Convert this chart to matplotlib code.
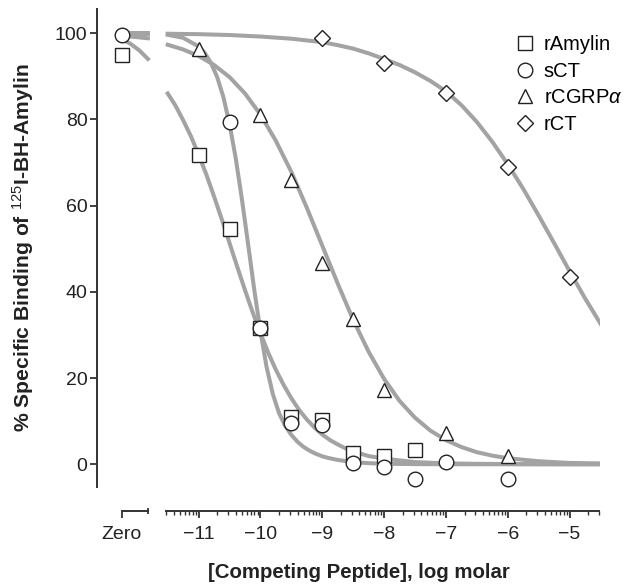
from __future__ import annotations

import matplotlib

matplotlib.use("Agg")
import matplotlib.pyplot as plt
import numpy as np


# x positions on the log-molar axis; "Zero" sits on its own short axis piece
ZERO_POS = -12.24
ZERO_END = -11.82
AXIS_START = np.log10(3e-12)
AXIS_END = np.log10(3e-5)

X_TICKS = [-11, -10, -9, -8, -7, -6, -5]
Y_TICKS = [0, 20, 40, 60, 80, 100]

LABELS = ["rAmylin", "sCT", r"rCGRP$\alpha$", "rCT"]

# measured points (% specific binding)
AMYLIN_LOG = [-11.0, -10.5, -10.0, -9.5, -9.0, -8.5, -8.0, -7.5]
AMYLIN_BIND = [71.7, 54.5, 31.5, 11.0, 10.3, 2.7, 2.0, 3.3]
AMYLIN_ZERO = 95.0

SCT_LOG = [-10.5, -10.0, -9.5, -9.0, -8.5, -8.0, -7.5, -7.0, -6.0]
SCT_BIND = [79.4, 31.5, 9.5, 9.1, 0.4, -0.6, -3.5, 0.6, -3.5]
SCT_ZERO = 99.6

CGRP_LOG = [-11.0, -10.0, -9.5, -9.0, -8.5, -8.0, -7.0, -6.0]
CGRP_BIND = [96.2, 81.0, 65.9, 46.6, 33.8, 17.2, 7.2, 1.8]

RCT_LOG = [-9.0, -8.0, -7.0, -6.0, -5.0]
RCT_BIND = [98.8, 93.1, 86.2, 69.0, 43.5]

# fitted curves
ZERO_CURVE_LOG = [-12.24, -12.10, -11.96, -11.82]
AMYLIN_ZERO_CURVE = [98.6, 97.5, 96.0, 94.0]
SCT_ZERO_CURVE = [99.9, 99.9, 99.8, 99.8]
CGRP_ZERO_CURVE = [99.3, 99.2, 99.0, 98.8]
RCT_ZERO_CURVE = [100.0, 100.0, 100.0, 100.0]

AMYLIN_CURVE_LOG = [-11.5, -11.375, -11.25, -11.125, -11.0, -10.875, -10.75, -10.625,
                    -10.5, -10.375, -10.25, -10.125, -10.0, -9.875, -9.75, -9.625,
                    -9.5, -9.375, -9.25, -9.125, -9.0, -8.875, -8.75, -8.625, -8.5,
                    -8.25, -8.0, -7.5, -7.0, -6.5, -6.0, -5.0, -4.5]
AMYLIN_CURVE = [86.0, 83.2, 79.8, 76.1, 71.8, 67.2, 62.1, 56.8,
                51.3, 45.8, 40.4, 35.2, 30.4, 25.9, 21.9, 18.4,
                15.3, 12.6, 10.4, 8.5, 6.9, 5.6, 4.6, 3.7, 3.0,
                1.9, 1.3, 0.5, 0.2, 0.1, 0.05, 0.0, 0.0]

SCT_CURVE_LOG = [-11.5, -11.25, -11.0, -10.9, -10.8, -10.7, -10.6, -10.5, -10.4,
                 -10.3, -10.2, -10.1, -10.0, -9.9, -9.8, -9.7, -9.6, -9.5, -9.4,
                 -9.3, -9.2, -9.1, -9.0, -8.9, -8.75, -8.5, -8.25, -8.0, -7.5,
                 -7.0, -6.0, -5.0, -4.5]
SCT_CURVE = [99.6, 98.9, 96.9, 95.4, 93.1, 89.8, 85.2, 78.9, 71.0,
             61.5, 51.1, 40.5, 30.8, 22.5, 16.3, 11.9, 8.9, 6.8, 5.2,
             4.0, 3.1, 2.4, 1.85, 1.45, 1.0, 0.5, 0.25, 0.12, 0.03,
             0.0, 0.0, 0.0, 0.0]

CGRP_CURVE_LOG = [-11.5, -11.25, -11.0, -10.75, -10.5, -10.25, -10.0, -9.75, -9.5,
                  -9.25, -9.0, -8.75, -8.5, -8.25, -8.0, -7.75, -7.5, -7.25, -7.0,
                  -6.75, -6.5, -6.25, -6.0, -5.5, -5.0, -4.5]
CGRP_CURVE = [97.3, 96.2, 94.7, 92.6, 89.8, 86.0, 81.1, 75.0, 67.8,
              59.5, 50.7, 41.9, 33.5, 26.1, 19.8, 14.7, 10.8, 7.8, 5.6,
              4.0, 2.8, 2.0, 1.4, 0.7, 0.3, 0.2]

RCT_CURVE_LOG = [-11.5, -11.0, -10.5, -10.0, -9.5, -9.0, -8.75, -8.5, -8.25, -8.0,
                 -7.75, -7.5, -7.25, -7.0, -6.75, -6.5, -6.25, -6.0, -5.75, -5.5,
                 -5.25, -5.0, -4.75, -4.5]
RCT_CURVE = [99.85, 99.75, 99.55, 99.2, 98.7, 97.9, 97.2, 96.4, 95.3, 94.0,
             92.6, 90.9, 88.9, 86.5, 83.3, 79.4, 74.8, 69.6, 63.9, 57.7,
             51.3, 44.8, 38.5, 32.6]

CURVE_COLOR = "#a3a3a3"
INK = "#222222"


def main() -> None:
    plt.rcParams["font.family"] = "Liberation Sans"
    plt.rcParams["mathtext.fontset"] = "custom"
    plt.rcParams["mathtext.rm"] = "Liberation Sans"
    plt.rcParams["mathtext.it"] = "Liberation Sans:italic"
    plt.rcParams["mathtext.bf"] = "Liberation Sans:bold"

    fig = plt.figure(figsize=(6.24, 5.86), dpi=100)
    ax = fig.add_axes([0.156, 0.1695, 0.806, 0.8145])

    curves = [
        (AMYLIN_ZERO_CURVE, AMYLIN_CURVE_LOG, AMYLIN_CURVE),
        (SCT_ZERO_CURVE, SCT_CURVE_LOG, SCT_CURVE),
        (CGRP_ZERO_CURVE, CGRP_CURVE_LOG, CGRP_CURVE),
        (RCT_ZERO_CURVE, RCT_CURVE_LOG, RCT_CURVE),
    ]
    for zero_curve, curve_log, curve in curves:
        ax.plot(ZERO_CURVE_LOG, zero_curve, color=CURVE_COLOR, linewidth=2.9,
                solid_joinstyle="round", zorder=2)
        ax.plot(curve_log, curve, color=CURVE_COLOR, linewidth=2.9,
                solid_joinstyle="round", zorder=2)

    marker_kw = dict(linestyle="none", markerfacecolor="white", markeredgecolor=INK,
                     markeredgewidth=1.0, clip_on=False)
    series = [
        (AMYLIN_LOG, AMYLIN_BIND, AMYLIN_ZERO, "s", 10.0),
        (SCT_LOG, SCT_BIND, SCT_ZERO, "o", 10.5),
        (CGRP_LOG, CGRP_BIND, None, "^", 10.0),
        (RCT_LOG, RCT_BIND, None, "D", 7.8),
    ]
    handles = []
    for i, (xs, ys, zero, marker, size) in enumerate(series):
        (line,) = ax.plot(xs, ys, marker=marker, markersize=size, zorder=3 + i,
                          label=LABELS[i], **marker_kw)
        if zero is not None:
            ax.plot([ZERO_POS], [zero], marker=marker, markersize=size, zorder=3 + i,
                    **marker_kw)
        handles.append(line)

    ax.set_xlim(-12.638, AXIS_END + 0.02)
    ax.set_ylim(-5.2, 105.5)

    for side in ("top", "right"):
        ax.spines[side].set_visible(False)
    ax.spines["left"].set_linewidth(1.4)
    ax.spines["left"].set_color("#333333")
    ax.spines["bottom"].set_linewidth(1.4)
    ax.spines["bottom"].set_color("#333333")
    ax.spines["bottom"].set_position(("outward", 17.5))
    ax.spines["bottom"].set_bounds(AXIS_START, AXIS_END)

    minor = [d + np.log10(k) for d in range(-12, -4) for k in range(2, 10)]
    minor = [m for m in minor if AXIS_START - 1e-6 <= m <= AXIS_END + 1e-6]
    ax.set_xticks(X_TICKS, [f"\u2212{abs(t)}" for t in X_TICKS])
    ax.set_xticks(minor, minor=True)
    ax.set_yticks(Y_TICKS, [str(t) for t in Y_TICKS])
    ax.tick_params(axis="y", length=5, width=1.3, pad=2, labelsize=14,
                   color="#333333", labelcolor=INK)
    ax.tick_params(axis="x", which="major", length=5, width=1.3, pad=6,
                   labelsize=14, color="#333333", labelcolor=INK)
    ax.tick_params(axis="x", which="minor", length=3, width=1.0, color="#333333")

    # separate short axis piece for the no-competitor ("Zero") column
    zero_ax = ax.twiny()
    zero_ax.set_xlim(ax.get_xlim())
    for side in ("top", "right", "left"):
        zero_ax.spines[side].set_visible(False)
    zero_ax.xaxis.set_ticks_position("bottom")
    zero_ax.spines["bottom"].set_visible(True)
    zero_ax.spines["bottom"].set_linewidth(1.4)
    zero_ax.spines["bottom"].set_color("#333333")
    zero_ax.spines["bottom"].set_position(("outward", 17.5))
    zero_ax.spines["bottom"].set_bounds(ZERO_POS, ZERO_END)
    zero_ax.set_xticks([ZERO_POS], ["Zero"])
    zero_ax.set_xticks([ZERO_END], minor=True)
    zero_ax.tick_params(axis="x", which="major", length=5, width=1.3, pad=6,
                        labelsize=14, color="#333333", labelcolor=INK)
    zero_ax.tick_params(axis="x", which="minor", length=5, width=1.3,
                        direction="inout", color="#333333")

    ax.set_ylabel(r"% Specific Binding of $^{\mathrm{125}}$I-BH-Amylin",
                  fontsize=15.2, fontweight="bold", color=INK)
    ax.yaxis.set_label_coords(-0.122, 0.5)
    fig.text(359 / 624, 8 / 586, "[Competing Peptide], log molar", ha="center",
             va="baseline", fontsize=14.7, fontweight="bold", color=INK)

    ax.legend(handles=handles, loc="upper left", bbox_to_anchor=(515.3 / 624, 0.9395),
              bbox_transform=fig.transFigure, frameon=False, fontsize=14.5,
              handlelength=1.0, handletextpad=0.42, labelspacing=0.37,
              borderpad=0.0, borderaxespad=0.0)

    fig.savefig("out.png", dpi=100)
    plt.close(fig)


if __name__ == "__main__":
    main()
